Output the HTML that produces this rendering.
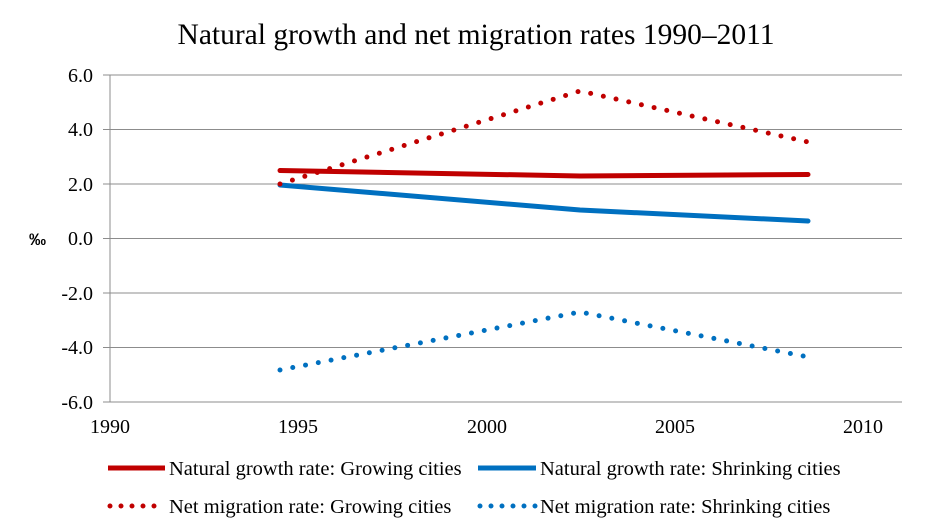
<!DOCTYPE html>
<html><head><style>body{margin:0;background:#fff}svg{display:block}</style></head><body>
<svg width="945" height="532" xmlns="http://www.w3.org/2000/svg" font-family="Liberation Serif, serif">
<rect width="945" height="532" fill="#fff"/>
<text x="476" y="44" font-size="29.5" text-anchor="middle">Natural growth and net migration rates 1990–2011</text>
<g stroke="#8c8c8c" stroke-width="1">
<line x1="103" y1="75" x2="902" y2="75"/>
<line x1="103" y1="129.5" x2="902" y2="129.5"/>
<line x1="103" y1="184" x2="902" y2="184"/>
<line x1="103" y1="238.5" x2="902" y2="238.5"/>
<line x1="103" y1="293" x2="902" y2="293"/>
<line x1="103" y1="347.5" x2="902" y2="347.5"/>
<line x1="103" y1="402" x2="902" y2="402"/>
<line x1="110" y1="75" x2="110" y2="402"/>
</g>
<g font-size="20" text-anchor="end">
<text x="93" y="82">6.0</text><text x="93" y="136">4.0</text><text x="93" y="191">2.0</text><text x="93" y="245">0.0</text><text x="93" y="300">-2.0</text><text x="93" y="354">-4.0</text><text x="93" y="409">-6.0</text>
</g>
<text x="29" y="245" font-size="17" font-family="Liberation Sans, sans-serif" font-weight="bold">‰</text>
<g font-size="20" text-anchor="middle">
<text x="110" y="433">1990</text><text x="298" y="433">1995</text><text x="487" y="433">2000</text><text x="675" y="433">2005</text><text x="863" y="433">2010</text>
</g>
<g fill="none" stroke-linecap="round">
<polyline points="280,170.5 580,176 808,174.5" stroke="#c00000" stroke-width="5"/>
<polyline points="280,185 580,210 808,221" stroke="#0070c0" stroke-width="5"/>
<polyline points="280,184 580,91 808,142" stroke="#c00000" stroke-width="5" stroke-dasharray="0 13"/>
<polyline points="280,370 580,312 808,357" stroke="#0070c0" stroke-width="5" stroke-dasharray="0 13"/>
</g>
<g fill="none" stroke-linecap="round">
<line x1="108" y1="468" x2="165" y2="468" stroke="#c00000" stroke-width="5" stroke-linecap="butt"/>
<line x1="478" y1="468" x2="536" y2="468" stroke="#0070c0" stroke-width="5" stroke-linecap="butt"/>
<line x1="110" y1="506" x2="165" y2="506" stroke="#c00000" stroke-width="5" stroke-dasharray="0 11"/>
<line x1="480" y1="506" x2="536" y2="506" stroke="#0070c0" stroke-width="5" stroke-dasharray="0 11"/>
</g>
<g font-size="20.5">
<text x="169" y="475">Natural growth rate: Growing cities</text>
<text x="540" y="475">Natural growth rate: Shrinking cities</text>
<text x="169" y="513">Net migration rate: Growing cities</text>
<text x="540" y="513">Net migration rate: Shrinking cities</text>
</g>
</svg>
</body></html>
